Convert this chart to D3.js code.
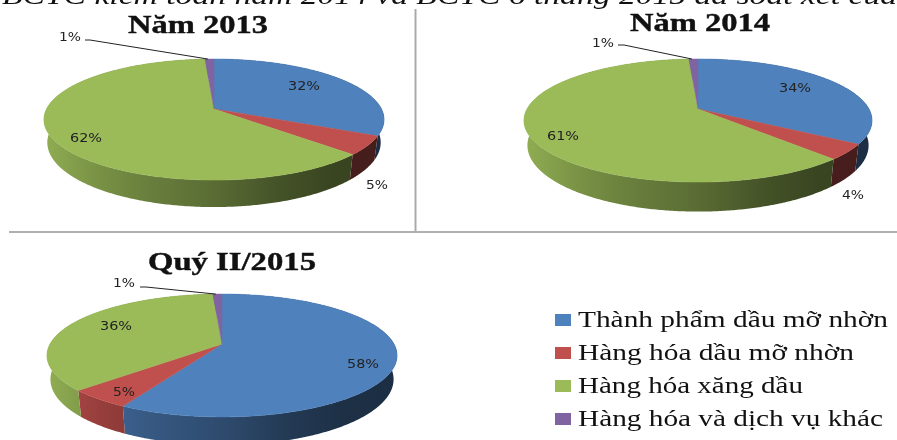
<!DOCTYPE html>
<html>
<head>
<meta charset="utf-8">
<script src="https://cdn.jsdelivr.net/npm/d3@7"></script>
<style>
  html, body { margin: 0; padding: 0; background: #fff; overflow: hidden; }
  svg { display: block; filter: blur(0.45px); }
</style>
</head>
<body>
<div id="chart"></div>
<script>
const categories = ['Thành phẩm dầu mỡ nhờn', 'Hàng hóa dầu mỡ nhờn', 'Hàng hóa xăng dầu', 'Hàng hóa và dịch vụ khác'];
const colors = ['#4f81bd', '#c0504d', '#9bbb59', '#8064a2'];
const pieTitles = ['Năm 2013', 'Năm 2014', 'Quý II/2015'];
const values2013 = [32, 5, 62, 1];
const values2014 = [34, 4, 61, 1];
const values2015 = [58, 5, 36, 1];
const captionText = 'BCTC kiểm toán năm 2014 và BCTC 6 tháng 2015 đã soát xét của';

const width = 897, height = 440;
const wallTaper = 0.98; // bottom rim is a little narrower, seen from above

// layout of each pie: apex, radii, perspective k, wall depth, label spots
const layouts = [
  {values: values2013, cx: 214, cy: 109, rx: 167.5, ry: 58.7, k: 0.174, depth: 22.3, titleX: 198, titleY: 33, titleW: 140,
    labels: [[304, 90], [377, 189], [86, 142], [70, 41]], leaderFrom: [85, 40], leaderMid: [90, 40]},
  {values: values2014, cx: 698, cy: 109, rx: 171, ry: 59.4, k: 0.187, depth: 24, titleX: 700, titleY: 31, titleW: 140,
    labels: [[795, 92], [853, 199], [563, 140], [603, 47]], leaderFrom: [618, 45], leaderMid: [624, 45]},
  {values: values2015, cx: 222, cy: 344, rx: 172, ry: 59.3, k: 0.187, depth: 23, titleX: 232, titleY: 270, titleW: 168,
    labels: [[363, 368], [124, 396], [116, 330], [124, 287]], leaderFrom: [140, 287], leaderMid: [146, 287]}
];

const svg = d3.select('#chart').append('svg').attr('width', width).attr('height', height);
const defs = svg.append('defs');

// clipped line of the document text above the charts
svg.append('text')
    .attr('x', 2).attr('y', 3.5)
    .attr('font-family', '"Liberation Serif"')
    .attr('font-style', 'italic')
    .attr('font-size', 25)
    .attr('fill', '#111')
    .attr('textLength', 895)
    .attr('lengthAdjust', 'spacingAndGlyphs')
    .text(captionText);

// frame lines between the charts
svg.append('line').attr('x1', 415.5).attr('x2', 415.5).attr('y1', 9).attr('y2', 232)
    .attr('stroke', '#aaa').attr('stroke-width', 2);
svg.append('line').attr('x1', 9).attr('x2', width).attr('y1', 232).attr('y2', 232)
    .attr('stroke', '#b0b0b0').attr('stroke-width', 2);

// lighting across the pie wall, left to right
const wallStops = [[0, 0.92], [0.15, 0.78], [0.3, 0.68], [0.5, 0.58], [0.7, 0.44], [0.85, 0.37], [1, 0.36]];
const shade = (c, f) => { const r = d3.rgb(c); return d3.rgb(r.r * f, r.g * f, r.b * f).formatHex(); };

const pie = d3.pie().sort(null).value((d) => d);

layouts.forEach((lay, p) => {
  // circle angle -> screen, with the far edge squeezed as in the 3D original
  const rim = (a, drop) => {
    const w = 1 + lay.k * Math.cos(a);
    const taper = drop ? wallTaper : 1;
    return [lay.cx + taper * lay.rx * Math.sin(a) / w, lay.cy - lay.ry * Math.cos(a) / w + drop / w];
  };
  const g = svg.append('g');
  const slices = pie(lay.values);
  const step = 0.01;
  const sample = (a0, a1, drop) => d3.range(a0, a1, step).concat([a1]).map((a) => rim(a, drop));

  colors.forEach((c, i) => {
    const grad = defs.append('linearGradient')
        .attr('id', 'wall' + p + '_' + i)
        .attr('gradientUnits', 'userSpaceOnUse')
        .attr('x1', lay.cx - lay.rx).attr('x2', lay.cx + lay.rx)
        .attr('y1', 0).attr('y2', 0);
    wallStops.forEach((s) => grad.append('stop').attr('offset', s[0]).attr('stop-color', shade(c, s[1])));
  });

  g.selectAll('path.wall').data(slices).enter().append('path')
      .attr('class', 'wall')
      .attr('fill', (d) => 'url(#wall' + p + '_' + d.index + ')')
      .attr('d', (d) => {
        const top = sample(d.startAngle, d.endAngle, 0);
        const bottom = sample(d.startAngle, d.endAngle, lay.depth).reverse();
        return d3.line()(top.concat(bottom)) + 'Z';
      });

  g.selectAll('path.top').data(slices).enter().append('path')
      .attr('class', 'top')
      .attr('fill', (d) => colors[d.index])
      .attr('stroke', (d) => colors[d.index])
      .attr('stroke-width', 0.5)
      .attr('d', (d) => d3.line()([[lay.cx, lay.cy]].concat(sample(d.startAngle, d.endAngle, 0))) + 'Z');

  // leader for the small slice
  const leaderEnd = rim(slices[3].startAngle + 0.02, 0);
  g.append('path')
      .attr('fill', 'none').attr('stroke', '#222').attr('stroke-width', 1)
      .attr('d', d3.line()([lay.leaderFrom, lay.leaderMid, leaderEnd]));

  // digit labels are stretched wide in the original
  lay.labels.forEach((pos, i) => {
    const txt = lay.values[i] + '%';
    g.append('text')
        .attr('x', pos[0]).attr('y', pos[1])
        .attr('font-family', '"DejaVu Sans"')
        .attr('font-size', 11.5)
        .attr('fill', '#222')
        .attr('text-anchor', 'middle')
        .attr('textLength', txt.length === 3 ? 32 : 22)
        .attr('lengthAdjust', 'spacingAndGlyphs')
        .text(txt);
  });

  g.append('text')
      .attr('x', lay.titleX).attr('y', lay.titleY)
      .attr('text-anchor', 'middle')
      .attr('font-family', '"Liberation Serif"')
      .attr('font-weight', 'bold')
      .attr('font-size', 26)
      .attr('fill', '#111')
      .attr('stroke', '#111')
      .attr('stroke-width', 0.4)
      .attr('textLength', lay.titleW)
      .attr('lengthAdjust', 'spacingAndGlyphs')
      .text(pieTitles[p]);
});

// legend
const legendY = d3.scalePoint().domain(categories).range([320, 419]);
const legendWidths = [310, 276, 225, 305];
const legend = svg.append('g').selectAll('g').data(categories).enter().append('g')
    .attr('transform', (d) => 'translate(555,' + legendY(d) + ')');
legend.append('rect')
    .attr('x', 0).attr('y', -6).attr('width', 16).attr('height', 12)
    .attr('fill', (d, i) => colors[i]);
legend.append('text')
    .attr('x', 23).attr('y', 7)
    .attr('font-family', '"Liberation Serif"')
    .attr('font-size', 23)
    .attr('fill', '#111')
    .attr('textLength', (d, i) => legendWidths[i])
    .attr('lengthAdjust', 'spacingAndGlyphs')
    .text((d) => d);
</script>
</body>
</html>
